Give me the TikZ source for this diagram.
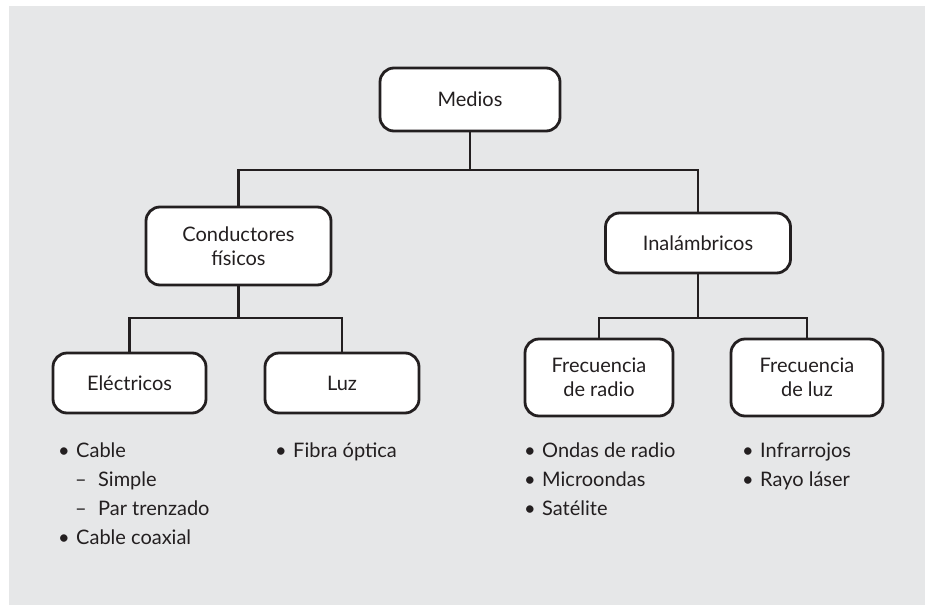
\documentclass[tikz,border=0pt]{standalone}
\usepackage{fontspec}
\setmainfont{Lato}
\definecolor{panel}{HTML}{E6E7E8}
\definecolor{ink}{HTML}{231F20}
\newcommand{\itembul}{\makebox[18pt][l]{\textbullet}}
\newcommand{\dashitem}{\hspace*{17pt}\makebox[23pt][l]{--}}
\tikzset{
  box/.style={draw=ink, line width=2.8pt, fill=white, rounded corners=14pt,
    align=center, text=ink, inner sep=0pt, font=\fontsize{20}{24}\selectfont},
  link/.style={draw=ink, line width=2.8pt},
  items/.style={anchor=base west, align=left, inner sep=0pt, text=ink,
    font=\fontsize{20}{29}\selectfont}
}
\begin{document}
\begin{tikzpicture}[x=1pt,y=-1pt]
  \useasboundingbox (0,0) rectangle (925,605);
  \fill[panel] (9,6) rectangle (925,605);
  % boxes
  \node[box, minimum width=180pt, minimum height=63pt] (medios) at (470,99.5) {Medios};
  \node[box, minimum width=185pt, minimum height=78pt] (cond) at (238.5,246) {Conductores\\físicos};
  \node[box, minimum width=185pt, minimum height=60pt] (inal) at (698,243) {Inalámbricos};
  \node[box, minimum width=153pt, minimum height=60pt] (elec) at (129.5,383) {Eléctricos};
  \node[box, minimum width=154pt, minimum height=60pt] (luz) at (342,383) {Luz};
  \node[box, minimum width=148pt, minimum height=77pt] (radio) at (599,377.5) {Frecuencia\\de radio};
  \node[box, minimum width=152pt, minimum height=77pt] (fluz) at (807,377.5) {Frecuencia\\de luz};
  % connectors
  \coordinate (forkTop) at (470,170);
  \coordinate (forkCond) at (238.5,318);
  \coordinate (forkInal) at (698,318);
  \draw[link] (medios) -- (forkTop) -| (cond);
  \draw[link] (forkTop) -| (inal);
  \draw[link] (cond) -- (forkCond) -| (elec);
  \draw[link] (forkCond) -| (luz);
  \draw[link] (inal) -- (forkInal) -| (radio);
  \draw[link] (forkInal) -| (fluz);
  % lists (anchored at the baseline of their last line)
  \node[items] (elecList) at (58,544) {\itembul Cable\\\dashitem Simple\\\dashitem Par trenzado\\\itembul Cable coaxial};
  \node[items] (luzList) at (275,457) {\itembul Fibra óptica};
  \node[items] (radioList) at (524,515) {\itembul Ondas de radio\\\itembul Microondas\\\itembul Satélite};
  \node[items] (fluzList) at (742,486) {\itembul Infrarrojos\\\itembul Rayo láser};
\end{tikzpicture}
\end{document}
